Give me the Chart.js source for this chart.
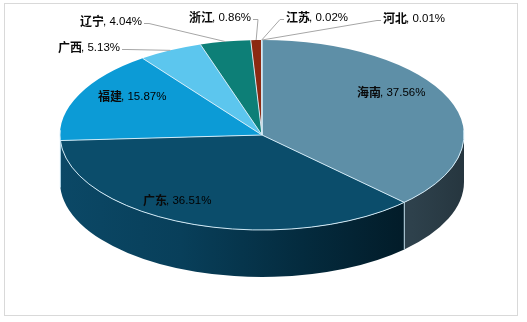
<!DOCTYPE html>
<html>
<head>
<meta charset="utf-8">
<script src="https://cdn.jsdelivr.net/npm/chart.js@4/dist/chart.umd.min.js"></script>
<style>
  html, body { margin: 0; padding: 0; background: #ffffff; }
  #wrap { position: relative; width: 527px; height: 322px; }
  #frame { position: absolute; left: 4px; top: 3px; width: 514px; height: 313px; border: 1px solid #d9d9d9; box-sizing: border-box; pointer-events: none; }
  canvas { position: absolute; left: 0; top: 0; }
</style>
</head>
<body>
<div id="wrap">
  <canvas id="c" width="527" height="322"></canvas>
  <div id="frame"></div>
</div>
<script>
// ---- data ----
const provinces = ['海南', '广东', '福建', '广西', '辽宁', '浙江', '江苏', '河北'];
const shares = [37.56, 36.51, 15.87, 5.13, 4.04, 0.86, 0.02, 0.01];

// ---- styles / layout ----
const topColors = ['#5e8fa7', '#0b4d6b', '#0c9bd6', '#5cc6ee', '#0d7f77', '#8c2a12', '#a33a1a', '#5f8da3'];
const sideColors = ['#2a3c46', '#063a54', '#066b95', '#3a8fb0', '#085a54', '#5c1a0a', '#6a220e', '#3b5a69'];
const ELL = { cx: 262, cy: 135, rx: 202, ry: 95, depth: 47 };
// label placement: [left x, middle y, leader side ('none' | 'left' | 'right')]
const labelLayout = [
  [357, 92, 'none'],
  [143, 200, 'none'],
  [98, 96, 'none'],
  [58, 47, 'right'],
  [80, 21, 'right'],
  [189, 17, 'right'],
  [286, 17, 'left'],
  [383, 18, 'left']
];

function ellPt(a, dy) {
  return [ELL.cx + ELL.rx * Math.cos(a), ELL.cy + (dy || 0) + ELL.ry * Math.sin(a)];
}

const pie3d = {
  id: 'pie3d',
  beforeDatasetsDraw(chart) {
    const ctx = chart.ctx;
    const meta = chart.getDatasetMeta(0);
    const D = ELL.depth;
    // side walls of the front half
    meta.data.forEach((arc, i) => {
      const s = arc.startAngle, e = arc.endAngle;
      const a = Math.max(s, 0), b = Math.min(e, Math.PI);
      if (b <= a) return;
      ctx.save();
      ctx.beginPath();
      const p = ellPt(a, 0);
      ctx.moveTo(p[0], p[1]);
      ctx.ellipse(ELL.cx, ELL.cy, ELL.rx, ELL.ry, 0, a, b, false);
      const q = ellPt(b, D);
      ctx.lineTo(q[0], q[1]);
      ctx.ellipse(ELL.cx, ELL.cy + D, ELL.rx, ELL.ry, 0, b, a, true);
      ctx.closePath();
      if (i === 1) {
        const g = ctx.createLinearGradient(ELL.cx - ELL.rx, 0, ELL.cx + ELL.rx, 0);
        g.addColorStop(0, '#0b4866');
        g.addColorStop(0.3, '#083f5a');
        g.addColorStop(0.6, '#042b3e');
        g.addColorStop(0.85, '#021c29');
        g.addColorStop(1, '#021c29');
        ctx.fillStyle = g;
      } else if (i === 0) {
        const g = ctx.createLinearGradient(ELL.cx + 150, 0, ELL.cx + ELL.rx, 0);
        g.addColorStop(0, '#2e414c');
        g.addColorStop(1, '#26363f');
        ctx.fillStyle = g;
      } else {
        ctx.fillStyle = sideColors[i];
      }
      ctx.fill();
      ctx.restore();
    });
    // divider line between the visible walls
    meta.data.forEach((arc) => {
      const a = arc.endAngle;
      if (a > 0 && a < Math.PI) {
        const p = ellPt(a, 0), q = ellPt(a, D);
        ctx.save();
        ctx.strokeStyle = 'rgba(200,230,245,0.9)';
        ctx.lineWidth = 1;
        ctx.beginPath(); ctx.moveTo(p[0], p[1]); ctx.lineTo(q[0], q[1]); ctx.stroke();
        ctx.restore();
      }
    });
    // squash the library's pie into the top ellipse
    const a0 = meta.data[0];
    const R = a0.outerRadius;
    ctx.save();
    ctx.translate(ELL.cx, ELL.cy);
    ctx.scale(ELL.rx / R, ELL.ry / R);
    ctx.translate(-a0.x, -a0.y);
  },
  afterDatasetsDraw(chart) {
    const ctx = chart.ctx;
    ctx.restore();
    const meta = chart.getDatasetMeta(0);
    // slice outlines on the top face
    ctx.save();
    ctx.strokeStyle = 'rgba(215,238,250,0.95)';
    ctx.lineWidth = 1;
    meta.data.forEach((arc) => {
      ctx.beginPath();
      ctx.moveTo(ELL.cx, ELL.cy);
      const p = ellPt(arc.startAngle, 0);
      ctx.lineTo(p[0], p[1]);
      ctx.stroke();
    });
    // front rim
    ctx.beginPath();
    ctx.ellipse(ELL.cx, ELL.cy, ELL.rx, ELL.ry, 0, -0.05, Math.PI + 0.05, false);
    ctx.stroke();
    ctx.restore();

    // labels
    const total = shares.reduce((s, v) => s + v, 0);
    meta.data.forEach((arc, i) => {
      const [lx, ly, side] = labelLayout[i];
      const name = provinces[i];
      const rest = ', ' + (shares[i] / total * 100).toFixed(2) + '%';
      ctx.save();
      ctx.textBaseline = 'middle';
      ctx.fillStyle = '#0a0a0a';
      ctx.font = 'bold 12px "Noto Sans CJK SC"';
      ctx.fillText(name, lx, ly);
      const w1 = ctx.measureText(name).width;
      ctx.font = '11.5px "Liberation Sans", Arial, sans-serif';
      ctx.fillStyle = '#000000';
      ctx.fillText(rest, lx + w1 - 1, ly + 1);
      const w2 = ctx.measureText(rest).width;
      const wTot = w1 - 1 + w2;
      if (side !== 'none') {
        const mid = (arc.startAngle + arc.endAngle) / 2;
        const anc = ellPt(mid, 0);
        ctx.strokeStyle = '#a6a6a6';
        ctx.lineWidth = 1;
        ctx.beginPath();
        let sx, stubX;
        if (side === 'right') { sx = lx + wTot + 2; stubX = sx + 5; }
        else { sx = lx - 2; stubX = sx - 4; }
        const sy = ly + 2.5;
        ctx.moveTo(sx, sy);
        ctx.lineTo(stubX, sy);
        ctx.lineTo(anc[0], anc[1]);
        ctx.stroke();
      }
      ctx.restore();
    });
  }
};

new Chart(document.getElementById('c'), {
  type: 'pie',
  data: {
    labels: provinces,
    datasets: [{
      data: shares,
      backgroundColor: topColors,
      borderWidth: 0,
      clip: false
    }]
  },
  options: {
    responsive: false,
    animation: false,
    rotation: 0,
    layout: { padding: 10 },
    plugins: {
      legend: { display: false },
      tooltip: { enabled: false }
    }
  },
  plugins: [pie3d]
});
</script>
</body>
</html>
